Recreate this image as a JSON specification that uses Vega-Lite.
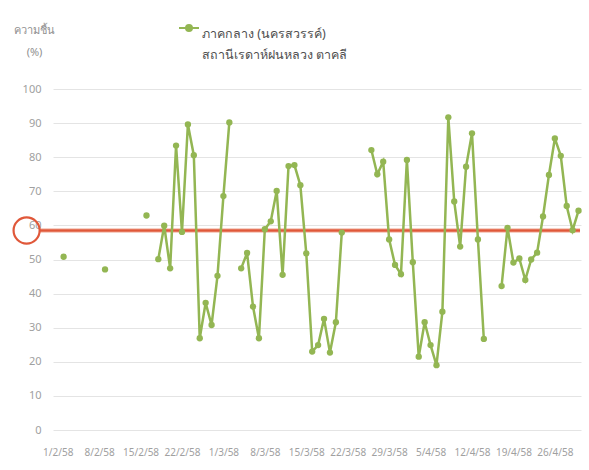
{
  "$schema": "https://vega.github.io/schema/vega-lite/v6.json",
  "autosize": {"type": "none"},
  "width": 528,
  "height": 341,
  "padding": {"left": 53, "top": 89, "right": 8, "bottom": 40},
  "background": "white",
  "config": {
    "view": {"stroke": null},
    "font": "Noto Sans",
    "axisY": {
      "tickCount": 10,
      "domain": false,
      "ticks": false,
      "tickSize": 0,
      "labelPadding": 12,
      "labelColor": "#a0a0a0",
      "labelFontSize": 11,
      "gridColor": "#e4e4e4",
      "gridWidth": 1
    },
    "style": {"guide-label": {"lineHeight": 21}}
  },
  "datasets": {
    "rh": [
      {"date": "2015-02-02", "rh": 50.8, "series": "ภาคกลาง (นครสวรรค์)"},
      {"date": "2015-02-03", "rh": null, "series": "ภาคกลาง (นครสวรรค์)"},
      {"date": "2015-02-09", "rh": 47.1, "series": "ภาคกลาง (นครสวรรค์)"},
      {"date": "2015-02-10", "rh": null, "series": "ภาคกลาง (นครสวรรค์)"},
      {"date": "2015-02-16", "rh": 62.9, "series": "ภาคกลาง (นครสวรรค์)"},
      {"date": "2015-02-17", "rh": null, "series": "ภาคกลาง (นครสวรรค์)"},
      {"date": "2015-02-18", "rh": 50.1, "series": "ภาคกลาง (นครสวรรค์)"},
      {"date": "2015-02-19", "rh": 59.9, "series": "ภาคกลาง (นครสวรรค์)"},
      {"date": "2015-02-20", "rh": 47.4, "series": "ภาคกลาง (นครสวรรค์)"},
      {"date": "2015-02-21", "rh": 83.4, "series": "ภาคกลาง (นครสวรรค์)"},
      {"date": "2015-02-22", "rh": 58.1, "series": "ภาคกลาง (นครสวรรค์)"},
      {"date": "2015-02-23", "rh": 89.6, "series": "ภาคกลาง (นครสวรรค์)"},
      {"date": "2015-02-24", "rh": 80.6, "series": "ภาคกลาง (นครสวรรค์)"},
      {"date": "2015-02-25", "rh": 26.9, "series": "ภาคกลาง (นครสวรรค์)"},
      {"date": "2015-02-26", "rh": 37.3, "series": "ภาคกลาง (นครสวรรค์)"},
      {"date": "2015-02-27", "rh": 30.8, "series": "ภาคกลาง (นครสวรรค์)"},
      {"date": "2015-02-28", "rh": 45.2, "series": "ภาคกลาง (นครสวรรค์)"},
      {"date": "2015-03-01", "rh": 68.6, "series": "ภาคกลาง (นครสวรรค์)"},
      {"date": "2015-03-02", "rh": 90.2, "series": "ภาคกลาง (นครสวรรค์)"},
      {"date": "2015-03-03", "rh": null, "series": "ภาคกลาง (นครสวรรค์)"},
      {"date": "2015-03-04", "rh": 47.4, "series": "ภาคกลาง (นครสวรรค์)"},
      {"date": "2015-03-05", "rh": 51.9, "series": "ภาคกลาง (นครสวรรค์)"},
      {"date": "2015-03-06", "rh": 36.2, "series": "ภาคกลาง (นครสวรรค์)"},
      {"date": "2015-03-07", "rh": 26.9, "series": "ภาคกลาง (นครสวรรค์)"},
      {"date": "2015-03-08", "rh": 58.9, "series": "ภาคกลาง (นครสวรรค์)"},
      {"date": "2015-03-09", "rh": 61.2, "series": "ภาคกลาง (นครสวรรค์)"},
      {"date": "2015-03-10", "rh": 70.1, "series": "ภาคกลาง (นครสวรรค์)"},
      {"date": "2015-03-11", "rh": 45.5, "series": "ภาคกลาง (นครสวรรค์)"},
      {"date": "2015-03-12", "rh": 77.4, "series": "ภาคกลาง (นครสวรรค์)"},
      {"date": "2015-03-13", "rh": 77.7, "series": "ภาคกลาง (นครสวรรค์)"},
      {"date": "2015-03-14", "rh": 71.8, "series": "ภาคกลาง (นครสวรรค์)"},
      {"date": "2015-03-15", "rh": 51.8, "series": "ภาคกลาง (นครสวรรค์)"},
      {"date": "2015-03-16", "rh": 23.0, "series": "ภาคกลาง (นครสวรรค์)"},
      {"date": "2015-03-17", "rh": 24.9, "series": "ภาคกลาง (นครสวรรค์)"},
      {"date": "2015-03-18", "rh": 32.6, "series": "ภาคกลาง (นครสวรรค์)"},
      {"date": "2015-03-19", "rh": 22.7, "series": "ภาคกลาง (นครสวรรค์)"},
      {"date": "2015-03-20", "rh": 31.6, "series": "ภาคกลาง (นครสวรรค์)"},
      {"date": "2015-03-21", "rh": 57.9, "series": "ภาคกลาง (นครสวรรค์)"},
      {"date": "2015-03-22", "rh": null, "series": "ภาคกลาง (นครสวรรค์)"},
      {"date": "2015-03-26", "rh": 82.1, "series": "ภาคกลาง (นครสวรรค์)"},
      {"date": "2015-03-27", "rh": 75.0, "series": "ภาคกลาง (นครสวรรค์)"},
      {"date": "2015-03-28", "rh": 78.7, "series": "ภาคกลาง (นครสวรรค์)"},
      {"date": "2015-03-29", "rh": 55.9, "series": "ภาคกลาง (นครสวรรค์)"},
      {"date": "2015-03-30", "rh": 48.4, "series": "ภาคกลาง (นครสวรรค์)"},
      {"date": "2015-03-31", "rh": 45.7, "series": "ภาคกลาง (นครสวรรค์)"},
      {"date": "2015-04-01", "rh": 79.2, "series": "ภาคกลาง (นครสวรรค์)"},
      {"date": "2015-04-02", "rh": 49.2, "series": "ภาคกลาง (นครสวรรค์)"},
      {"date": "2015-04-03", "rh": 21.5, "series": "ภาคกลาง (นครสวรรค์)"},
      {"date": "2015-04-04", "rh": 31.6, "series": "ภาคกลาง (นครสวรรค์)"},
      {"date": "2015-04-05", "rh": 24.9, "series": "ภาคกลาง (นครสวรรค์)"},
      {"date": "2015-04-06", "rh": 19.0, "series": "ภาคกลาง (นครสวรรค์)"},
      {"date": "2015-04-07", "rh": 34.7, "series": "ภาคกลาง (นครสวรรค์)"},
      {"date": "2015-04-08", "rh": 91.7, "series": "ภาคกลาง (นครสวรรค์)"},
      {"date": "2015-04-09", "rh": 67.0, "series": "ภาคกลาง (นครสวรรค์)"},
      {"date": "2015-04-10", "rh": 53.8, "series": "ภาคกลาง (นครสวรรค์)"},
      {"date": "2015-04-11", "rh": 77.2, "series": "ภาคกลาง (นครสวรรค์)"},
      {"date": "2015-04-12", "rh": 87.0, "series": "ภาคกลาง (นครสวรรค์)"},
      {"date": "2015-04-13", "rh": 55.9, "series": "ภาคกลาง (นครสวรรค์)"},
      {"date": "2015-04-14", "rh": 26.7, "series": "ภาคกลาง (นครสวรรค์)"},
      {"date": "2015-04-15", "rh": null, "series": "ภาคกลาง (นครสวรรค์)"},
      {"date": "2015-04-17", "rh": 42.2, "series": "ภาคกลาง (นครสวรรค์)"},
      {"date": "2015-04-18", "rh": 59.3, "series": "ภาคกลาง (นครสวรรค์)"},
      {"date": "2015-04-19", "rh": 49.1, "series": "ภาคกลาง (นครสวรรค์)"},
      {"date": "2015-04-20", "rh": 50.3, "series": "ภาคกลาง (นครสวรรค์)"},
      {"date": "2015-04-21", "rh": 44.0, "series": "ภาคกลาง (นครสวรรค์)"},
      {"date": "2015-04-22", "rh": 50.0, "series": "ภาคกลาง (นครสวรรค์)"},
      {"date": "2015-04-23", "rh": 52.0, "series": "ภาคกลาง (นครสวรรค์)"},
      {"date": "2015-04-24", "rh": 62.6, "series": "ภาคกลาง (นครสวรรค์)"},
      {"date": "2015-04-25", "rh": 74.8, "series": "ภาคกลาง (นครสวรรค์)"},
      {"date": "2015-04-26", "rh": 85.5, "series": "ภาคกลาง (นครสวรรค์)"},
      {"date": "2015-04-27", "rh": 80.4, "series": "ภาคกลาง (นครสวรรค์)"},
      {"date": "2015-04-28", "rh": 65.7, "series": "ภาคกลาง (นครสวรรค์)"},
      {"date": "2015-04-29", "rh": 58.6, "series": "ภาคกลาง (นครสวรรค์)"},
      {"date": "2015-04-30", "rh": 64.3, "series": "ภาคกลาง (นครสวรรค์)"}
    ],
    "threshold": [
      {"start": "2015-01-29", "end": "2015-04-30T06:00:00Z", "level": 58.5}
    ],
    "marker": [
      {"date": "2015-01-26T18:00:00Z", "level": 58.5}
    ]
  },
  "layer": [
    {
      "data": {"name": "threshold"},
      "mark": {"type": "rule", "color": "#f6cfc4", "strokeWidth": 5, "clip": false},
      "encoding": {
        "x": {"field": "start", "type": "temporal"},
        "x2": {"field": "end"},
        "y": {"field": "level", "type": "quantitative"}
      }
    },
    {
      "data": {"name": "threshold"},
      "mark": {"type": "rule", "color": "#e0583a", "strokeWidth": 2.6, "clip": false},
      "encoding": {
        "x": {"field": "start", "type": "temporal"},
        "x2": {"field": "end"},
        "y": {"field": "level", "type": "quantitative"}
      }
    },
    {
      "data": {"name": "marker"},
      "mark": {"type": "point", "shape": "circle", "filled": false, "size": 680, "stroke": "#e0583a", "strokeWidth": 2.2, "opacity": 1, "clip": false},
      "encoding": {
        "x": {"field": "date", "type": "temporal"},
        "y": {"field": "level", "type": "quantitative"}
      }
    },
    {
      "data": {"name": "rh"},
      "mark": {
        "type": "line",
        "strokeWidth": 2.5,
        "invalid": "break-paths-show-domains",
        "point": {"filled": true, "size": 40}
      },
      "encoding": {
        "x": {
          "field": "date",
          "type": "temporal",
          "scale": {
            "type": "utc",
            "domain": [
              {"year": 2015, "month": "jan", "date": 31, "hours": 5, "utc": true},
              {"year": 2015, "month": "apr", "date": 30, "hours": 10, "utc": true}
            ]
          },
          "axis": {
            "title": null,
            "grid": false,
            "domain": false,
            "ticks": false,
            "tickSize": 0,
            "tickCount": {"interval": "week", "step": 1},
            "labelExpr": "utcdate(datum.value) + '/' + (utcmonth(datum.value) + 1) + '/' + ((utcyear(datum.value) + 543) % 100)",
            "labelColor": "#a0a0a0",
            "labelFontSize": 10,
            "labelPadding": 17,
            "labelOverlap": false,
            "labelFlush": false
          }
        },
        "y": {
          "field": "rh",
          "type": "quantitative",
          "scale": {"domain": [0, 100], "nice": false},
          "axis": {
            "title": ["ความชื้น", "(%)"],
            "titleAngle": 0,
            "titleAlign": "center",
            "titleBaseline": "top",
            "titleX": -19,
            "titleY": -65,
            "titleLineHeight": 22,
            "titleFontSize": 11,
            "titleFontWeight": "normal",
            "titleColor": "#909090"
          }
        },
        "color": {
          "field": "series",
          "type": "nominal",
          "scale": {"range": ["#93b653"]},
          "legend": {
            "orient": "none",
            "legendX": 125,
            "legendY": -72,
            "title": null,
            "labelExpr": "[datum.label, 'สถานีเรดาห์ฝนหลวง ตาคลี']",
            "labelFontSize": 12.5,
            "labelColor": "#505050",
            "labelBaseline": "top",
            "labelLimit": 400,
            "labelOffset": 2,
            "symbolType": "M-1,0L1,0M-0.3,0A0.3,0.3,0,1,1,0.3,0A0.3,0.3,0,1,1,-0.3,0Z",
            "symbolSize": 400,
            "symbolStrokeWidth": 2,
            "symbolFillColor": "#93b653",
            "symbolStrokeColor": "#93b653"
          }
        }
      }
    }
  ]
}
